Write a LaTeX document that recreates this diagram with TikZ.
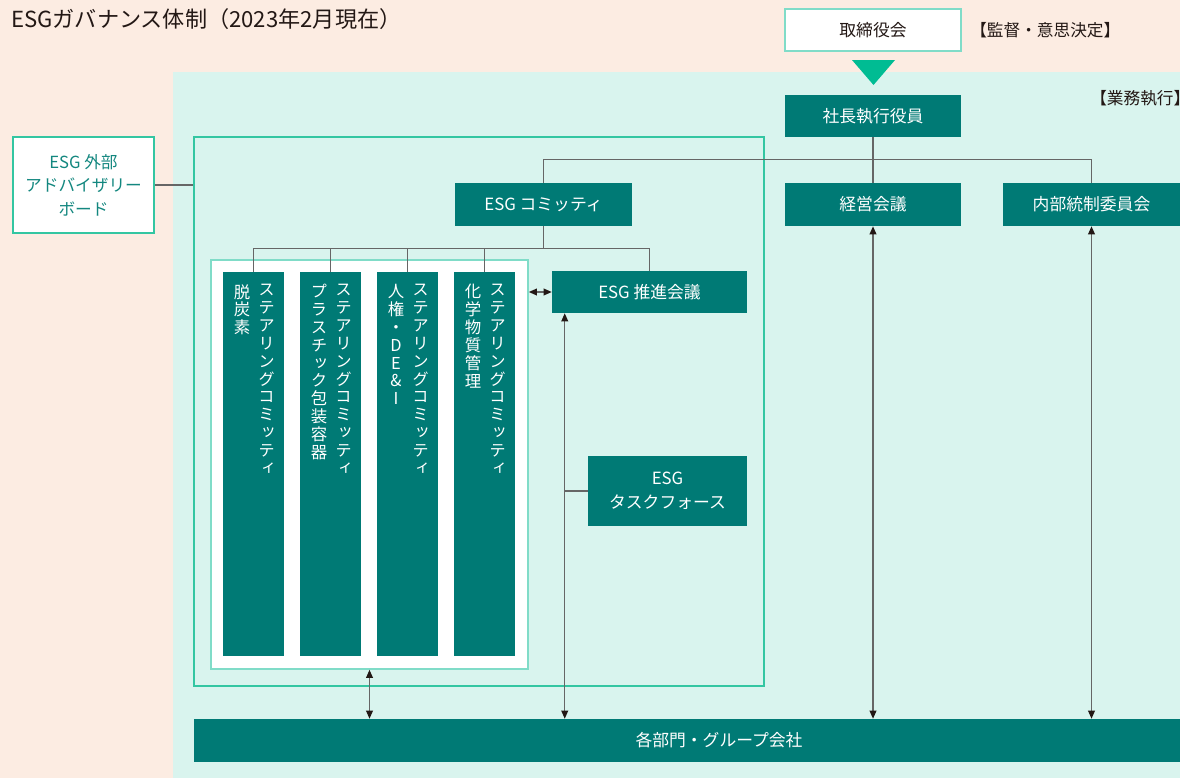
\documentclass[tikz,border=0pt]{standalone}
\usepackage{fontspec}
\setmainfont{Noto Sans CJK JP}
\newfontfamily\vfont[RawFeature=+vert]{Noto Sans CJK JP}
\usetikzlibrary{fit,arrows.meta,calc}
\definecolor{peach}{HTML}{FCECE2}
\definecolor{mint}{HTML}{D9F4EE}
\definecolor{teal}{HTML}{007A75}
\definecolor{gborder}{HTML}{33C6A2}
\definecolor{iborder}{HTML}{80DCC8}
\definecolor{trig}{HTML}{00BC93}
\definecolor{lgray}{HTML}{666666}
\definecolor{darktext}{HTML}{231815}
\definecolor{advtext}{HTML}{13877F}
\ExplSyntaxOn
\NewDocumentCommand\vtext{m}{
  \vtop{\baselineskip=13.4pt\lineskiplimit=-20pt\lineskip=0pt
    \tl_map_inline:nn {#1} {\hbox_to_wd:nn {1em}{\hss ##1\hss}}}
}
\ExplSyntaxOff
\tikzset{
  tealbox/.style={fill=teal,inner sep=0pt},
  boxtext/.style={text=white,inner sep=0pt,font=\fontsize{12.6pt}{18pt}\selectfont,align=center},
  colbox/.style={fill=teal,inner sep=0pt},
  coltext/.style={text=white,inner sep=0pt,anchor=north,font=\vfont\fontsize{12.3pt}{13.4pt}\selectfont},
  conn/.style={draw=lgray,line width=1pt},
  dbl/.style={conn,{Triangle[length=6pt,width=5pt,fill=darktext,color=darktext]}-{Triangle[length=6pt,width=5pt,fill=darktext,color=darktext]}},
  bracket/.style={text=darktext,inner sep=0pt,font=\fontsize{12.5pt}{15pt}\selectfont}
}
\begin{document}
\begin{tikzpicture}[x=0.75pt,y=-0.75pt]
\useasboundingbox (0,0) rectangle (1180,778);
% backgrounds
\fill[peach] (0,0) rectangle (1180,778);
\fill[mint] (173,72) rectangle (1180,778);
% title
\node[anchor=west,inner sep=0pt,text=darktext,font=\fontsize{16.6pt}{19pt}\selectfont] (title) at (11,19) {ESGガバナンス体制（2023年2月現在）};
% board
\node[fill=white,draw=iborder,line width=1.5pt,inner sep=0pt,fit={(785,9)(961,51)}] (board) {};
\node[text=darktext,inner sep=0pt,font=\fontsize{12.6pt}{15pt}\selectfont] (boardt) at (board.center) {取締役会};
\node[bracket,anchor=west] (kantoku) at (970,30) {【監督・意思決定】};
\fill[trig] (852,60) -- (895,60) -- (873.5,85) -- cycle;
\node[bracket,anchor=west] (gyomu) at (1090,98) {【業務執行】};
% president
\node[tealbox,fit={(785,95)(961,137)}] (pres) {};
\node[boxtext] (prest) at (pres.center) {社長執行役員};
% ESG area
\node[draw=gborder,line width=1.2pt,inner sep=0pt,fit={(194,137)(764,686)}] (esgarea) {};
\node[fill=white,draw=iborder,line width=1.2pt,inner sep=0pt,fit={(211,260)(528,669)}] (inner) {};
% advisory board
\node[fill=white,draw=gborder,line width=1.5pt,inner sep=0pt,fit={(13,137)(154,233)}] (adv) {};
\node[text=advtext,inner sep=0pt,align=center,font=\fontsize{12.5pt}{17.6pt}\selectfont] (advt) at (adv.center) {ESG 外部\\アドバイザリー\\ボード};
% committees
\node[tealbox,fit={(455,183)(632,226)}] (esgc) {};
\node[boxtext] (esgct) at (esgc.center) {ESG コミッティ};
\node[tealbox,fit={(785,183)(961,226)}] (keiei) {};
\node[boxtext] (keieit) at (keiei.center) {経営会議};
\node[tealbox,fit={(1003,183)(1180,226)}] (naibu) {};
\node[boxtext] (naibut) at (naibu.center) {内部統制委員会};
\node[tealbox,fit={(552,271)(747,313)}] (suishin) {};
\node[boxtext] (suishint) at (suishin.center) {ESG 推進会議};
\node[tealbox,fit={(588,456)(747,526)}] (tf) {};
\node[boxtext] (tft) at (tf.center) {ESG\\タスクフォース};
\node[tealbox,fit={(194,719)(1180,762)}] (bottom) {};
\node[boxtext] (bottomt) at (bottom.center -| 719,0) {各部門・グループ会社};
% columns
\node[colbox,fit={(223,272)(284,656)}] (col1) {};
\node[colbox,fit={(300,272)(361,656)}] (col2) {};
\node[colbox,fit={(377,272)(438,656)}] (col3) {};
\node[colbox,fit={(454,272)(515,656)}] (col4) {};
\node[coltext] (c1a) at (266.5,284) {\vtext{ステアリングコミッティ}};
\node[coltext] (c1b) at (242,284) {\vtext{脱炭素}};
\node[coltext] (c2a) at (343.5,284) {\vtext{ステアリングコミッティ}};
\node[coltext] (c2b) at (319,284) {\vtext{プラスチック包装容器}};
\node[coltext] (c3a) at (420.5,284) {\vtext{ステアリングコミッティ}};
\node[coltext] (c3b) at (396,284) {\vtext{人権・DE\&I}};
\node[coltext] (c4a) at (497.5,284) {\vtext{ステアリングコミッティ}};
\node[coltext] (c4b) at (473,284) {\vtext{化学物質管理}};
% connectors
\draw[conn] (pres.south) -- (keiei.north);
\draw[conn] (esgc.north) -- ++(0,-23) coordinate (jt) -| (naibu.north);
\draw[conn] (esgc.south) -- ++(0,22) coordinate (jb);
\draw[conn] (col1.north) |- (jb) -| (suishin.north);
\draw[conn] (col2.north) -- (col2.north |- jb);
\draw[conn] (col3.north) -- (col3.north |- jb);
\draw[conn] (col4.north) -- (col4.north |- jb);
\draw[conn] (adv.east) -- (adv.east -| esgarea.west);
\draw[dbl] (suishin.west -| inner.east) -- (suishin.west);
\coordinate (s1) at ([xshift=9.75pt]suishin.south west);
\draw[dbl] (s1) -- (s1 |- bottom.north);
\draw[conn] (s1 |- tf.west) -- (tf.west);
\draw[dbl] (inner.south) -- (inner.south |- bottom.north);
\draw[dbl] (keiei.south) -- (keiei.south |- bottom.north);
\draw[dbl] (naibu.south) -- (naibu.south |- bottom.north);
\end{tikzpicture}
\end{document}
